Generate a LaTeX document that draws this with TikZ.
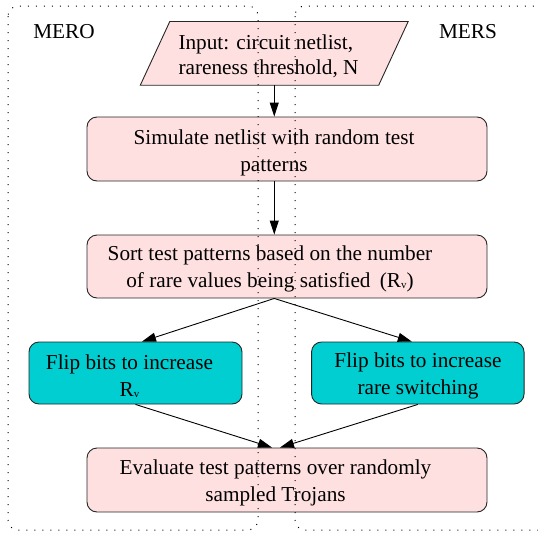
\documentclass[tikz,border=0pt]{standalone}
\usepackage{fontspec}
\setmainfont{Liberation Serif}
\usetikzlibrary{shapes.geometric,arrows.meta,calc}
\definecolor{pinkfill}{RGB}{255,224,224}
\definecolor{tealfill}{RGB}{0,206,209}
\newcommand{\Rv}{R\raisebox{-0.5pt}{\fontsize{11}{11}\selectfont v}}
\begin{document}
\begin{tikzpicture}[x=1pt,y=-1pt,
  box/.style={draw=black!85, line width=0.9pt, rounded corners=10pt, inner sep=0pt},
  pinkbox/.style={box, fill=pinkfill},
  tealbox/.style={box, fill=tealfill},
  txt/.style={inner sep=0pt, align=center, font=\fontsize{21.25}{27}\selectfont},
  lbl/.style={inner sep=0pt, anchor=base, font=\fontsize{21.25}{27}\selectfont},
  arr/.style={line width=0.9pt, -{Triangle[length=14pt,width=9pt]}},
  dotbox/.style={line width=1pt, dash pattern=on 1pt off 7pt, rounded corners=10pt}]
\useasboundingbox (0,0) rectangle (538,533);
\clip (0,0) rectangle (538,533);
\node[lbl] (mero) at (64,38.4) {MERO};
\node[lbl] (mers) at (468,38.4) {MERS};
% input parallelogram
\node[minimum width=267.5pt, minimum height=63.3pt, inner sep=0pt] (par) at (274.25,53.35) {};
\draw[draw=black!85, line width=0.9pt, fill=pinkfill]
  (par.south west) -- ($(par.north west)+(29.5,0)$) -- (par.north east) -- ($(par.south east)+(-29.5,0)$) -- cycle;
\node[txt, align=left, anchor=west, font=\fontsize{21.25}{25}\selectfont] (part) at (178.3,56) {Input: circuit netlist,\\rareness threshold, N};
% boxes
\node[pinkbox, minimum width=400pt, minimum height=64pt] (b2) at (287,149) {};
\node[txt] (b2t) at (274,153) {Simulate netlist with random test\\patterns};
\node[pinkbox, minimum width=400pt, minimum height=63pt] (b3) at (287,266.5) {};
\node[txt] (b3t) at (270,269) {Sort test patterns based on the number\\of rare values being satisfied\hspace{4pt} (\Rv)};
\node[tealbox, minimum width=213pt, minimum height=62pt] (fl) at (135.5,373) {};
\node[txt] (flt) at (129.5,376) {Flip bits to increase\\\Rv};
\node[tealbox, minimum width=212.5pt, minimum height=62pt] (fr) at (417.8,373) {};
\node[txt] (frt) at (418,376) {Flip bits to increase\\rare switching};
\node[pinkbox, minimum width=400pt, minimum height=64pt] (ev) at (287,480) {};
\node[txt] (evt) at (275.5,483) {Evaluate test patterns over randomly\\sampled Trojans};
% connectors
\draw[arr] (par.south) -- (par.south |- b2.north);
\draw[arr] (b2.south -| par.south) -- (b3.north -| par.south);
\draw[arr] (b3.south -| par.south) -- ($(fl.north)+(6.5,0)$);
\draw[arr] (b3.south -| par.south) -- ($(fr.north)+(-6,0)$);
\draw[arr] (fl.south) -- ($(ev.north)+(-15,0)$);
\draw[arr] (fr.south) -- ($(ev.north)+(-7,0)$);
% swimlanes (drawn on top, as in the reference)
\draw[dotbox] (8,6) rectangle (258,530);
\draw[dotbox] (295,6) rectangle (570,530);
\end{tikzpicture}
\end{document}
